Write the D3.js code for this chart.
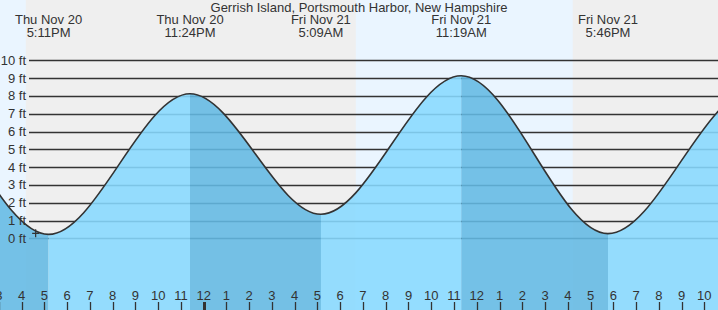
<!DOCTYPE html>
<html>
<head>
<meta charset="utf-8">
<script src="https://cdn.jsdelivr.net/npm/d3@7"></script>
<style>
  html, body { margin: 0; padding: 0; background: #fff; }
  svg { display: block; }
  text { font-family: "Liberation Sans", Arial, sans-serif; fill: #333; }
</style>
</head>
<body>
<svg id="chart" width="718" height="310"></svg>
<script>
// ---- Data ----
const chartTitle = "Gerrish Island, Portsmouth Harbor, New Hampshire";
const xDomainTimes = ["2025-11-20 15:03", "2025-11-21 22:36"];
// tide extremes (the first two and last two lie outside the visible window)
const tideTimes   = ["2025-11-20 04:30", "2025-11-20 10:40", "2025-11-20 17:11", "2025-11-20 23:24", "2025-11-21 05:09", "2025-11-21 11:19", "2025-11-21 17:46", "2025-11-22 00:08", "2025-11-22 06:20"];
const tideHeights = [1.0, 8.9, 0.22, 8.12, 1.35, 9.13, 0.26, 8.3, 1.2];
// night periods [sunset, sunrise]
const nightStarts = ["2025-11-20 16:11", "2025-11-21 16:13"];
const nightEnds   = ["2025-11-21 06:41", "2025-11-22 06:42"];
const yTickValues = [0, 1, 2, 3, 4, 5, 6, 7, 8, 9, 10];
const nowTime = "2025-11-20 16:37";
const nowHeight = 0.28;

// ---- Setup ----
const W = 718, H = 310;
const parse = d3.timeParse("%Y-%m-%d %H:%M");
const svg = d3.select("#chart");

const x = d3.scaleTime().domain(xDomainTimes.map(parse)).range([0, W]);
const y = d3.scaleLinear().domain([0, 10]).range([238.3, 60.3]);

const tides = tideTimes.map((t, i) => ({ t: parse(t), h: tideHeights[i] }));

// Background: day
svg.append("rect").attr("x", 0).attr("y", 0).attr("width", W).attr("height", H).attr("fill", "#eaf5ff");
// Night bands
svg.selectAll("rect.night").data(nightStarts.map((s, i) => [parse(s), parse(nightEnds[i])]))
  .join("rect").attr("class", "night")
  .attr("x", d => Math.max(0, x(d[0])))
  .attr("y", 0)
  .attr("width", d => Math.min(W, x(d[1])) - Math.max(0, x(d[0])))
  .attr("height", H)
  .attr("fill", "#efefef");

// Grid lines
svg.selectAll("line.grid").data(yTickValues).join("line").attr("class", "grid")
  .attr("x1", 29).attr("x2", W)
  .attr("y1", d => Math.round(y(d)) + 0.5).attr("y2", d => Math.round(y(d)) + 0.5)
  .attr("stroke", "#333").attr("stroke-width", 1.3);

// Filled area, coloured per rising/falling segment
const area = d3.area().curve(d3.curveMonotoneX)
  .x(d => x(d.t)).y0(H).y1(d => y(d.h));
const defs = svg.append("defs");
const segs = [];
for (let i = 0; i < tides.length - 1; i++) {
  segs.push({ a: tides[i].t, b: tides[i + 1].t, rising: tides[i + 1].h > tides[i].h, id: "seg" + i });
}
segs.forEach(s => {
  defs.append("clipPath").attr("id", s.id).append("rect")
    .attr("x", x(s.a)).attr("y", 0).attr("width", x(s.b) - x(s.a)).attr("height", H);
  svg.append("path").datum(tides).attr("d", area)
    .attr("clip-path", `url(#${s.id})`)
    .attr("fill", s.rising ? "rgb(136,217,255)" : "rgb(99,186,228)")
    .attr("fill-opacity", 0.88);
});

// Curve line
const line = d3.line().curve(d3.curveMonotoneX).x(d => x(d.t)).y(d => y(d.h));
svg.append("path").datum(tides).attr("d", line)
  .attr("fill", "none").attr("stroke", "#333").attr("stroke-width", 1.6);

// Y labels
svg.selectAll("text.ylab").data(yTickValues).join("text").attr("class", "ylab")
  .attr("x", 26).attr("y", d => y(d) + 4.5)
  .attr("text-anchor", "end").attr("font-size", 13)
  .text(d => d + " ft");

// Hour ticks
const [d0, d1] = x.domain();
const hours = d3.timeHour.range(d3.timeHour.floor(d0), d1);
const fmtHour = d3.timeFormat("%-I");
const hg = svg.append("g");
hg.selectAll("line").data(hours).join("line")
  .attr("x1", d => Math.round(x(d)) + 0.5).attr("x2", d => Math.round(x(d)) + 0.5)
  .attr("y1", 302).attr("y2", H)
  .attr("stroke", "#333")
  .attr("stroke-width", d => d.getHours() === 0 ? 3 : 1.3);
hg.selectAll("text").data(hours).join("text")
  .attr("x", d => x(d)).attr("y", 299.5)
  .attr("text-anchor", "middle").attr("font-size", 13)
  .text(d => fmtHour(d));

// Extreme labels
const fmtDay = d3.timeFormat("%a %b %d");
const fmtTime = d3.timeFormat("%-I:%M%p");
const visible = tides.filter(d => d.t >= d0 && d.t <= d1);
const lg = svg.append("g");
lg.selectAll("text.day").data(visible).join("text").attr("class", "day")
  .attr("x", d => x(d.t)).attr("y", 24)
  .attr("text-anchor", "middle").attr("font-size", 13)
  .text(d => fmtDay(d.t));
lg.selectAll("text.time").data(visible).join("text").attr("class", "time")
  .attr("x", d => x(d.t)).attr("y", 36.5)
  .attr("text-anchor", "middle").attr("font-size", 13)
  .text(d => fmtTime(d.t));

// Title
svg.append("text").attr("x", W / 2).attr("y", 12)
  .attr("text-anchor", "middle").attr("font-size", 13)
  .text(chartTitle);

// Current time marker
const nx = x(parse(nowTime)), ny = y(nowHeight);
svg.append("path")
  .attr("d", `M${nx - 3.5},${ny}H${nx + 3.5}M${nx},${ny - 4}V${ny + 4}`)
  .attr("stroke", "#333").attr("stroke-width", 1.2);
</script>
</body>
</html>
